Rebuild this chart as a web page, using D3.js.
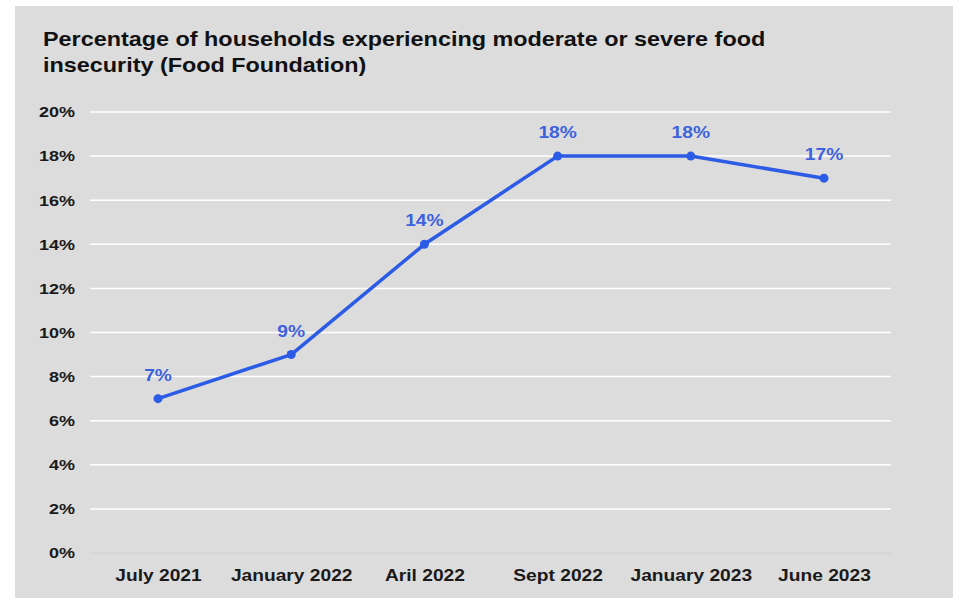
<!DOCTYPE html>
<html><head><meta charset="utf-8">
<script src="https://cdn.jsdelivr.net/npm/d3@7"></script>
<style>body{margin:0;background:#fff}svg{display:block}text{font-family:"Liberation Sans",Arial,sans-serif}</style>
</head><body>
<svg id="c" width="953" height="599"></svg>
<script>
const categories = ["July 2021","January 2022","Aril 2022","Sept 2022","January 2023","June 2023"];
const values = [7, 9, 14, 18, 18, 17];
const yTicks = [0,2,4,6,8,10,12,14,16,18,20];
const titleLines = ["Percentage of households experiencing moderate or severe food","insecurity (Food Foundation)"];

const SX = 1.2; // horizontal stretch of the reference text
const svg = d3.select("#c");
svg.append("rect").attr("x",15).attr("y",6).attr("width",938).attr("height",592).attr("fill","#dcdcdc");

const x = d3.scalePoint().domain(categories).range([158, 824]);
const y = d3.scaleLinear().domain([0,20]).range([553, 112]);

// gridlines
svg.append("g").selectAll("line").data(yTicks).join("line")
  .attr("x1",90).attr("x2",891)
  .attr("y1",d=>y(d)).attr("y2",d=>y(d))
  .attr("stroke",d=>d===0?"#d4d4d4":"#ffffff").attr("stroke-width",1.5);

// y axis labels
const yAxis = d3.axisLeft(y).tickValues(yTicks).tickFormat(d=>d+"%").tickSize(0).tickPadding(0);
const ga = svg.append("g").attr("transform","translate(75,0)").call(yAxis);
ga.select(".domain").remove();
ga.selectAll("text").attr("font-size",15).attr("font-weight","bold").attr("fill","#1a1a1a")
  .attr("font-family","'Liberation Sans',Arial,sans-serif").attr("transform",`scale(${SX},1)`);

// x axis labels
const xAxis = d3.axisBottom(x).tickSize(0).tickPadding(0);
const gx = svg.append("g").attr("transform","translate(0,570)").call(xAxis);
gx.select(".domain").remove();
gx.selectAll("text").attr("font-size",16).attr("font-weight","bold").attr("fill","#1a1a1a")
  .attr("font-family","'Liberation Sans',Arial,sans-serif").attr("transform",`scale(${SX},1)`);

// title
svg.append("g").selectAll("text").data(titleLines).join("text")
  .attr("transform",(d,i)=>`translate(43,${46+i*26}) scale(${SX},1)`)
  .attr("font-size",19.5).attr("font-weight","bold").attr("fill","#111")
  .text(d=>d);

const data = categories.map((c,i)=>({c, v: values[i]}));
const line = d3.line().x(d=>x(d.c)).y(d=>y(d.v));
svg.append("path").datum(data).attr("d",line).attr("fill","none")
  .attr("stroke","#2c5be6").attr("stroke-width",3.5).attr("stroke-linejoin","round");
svg.append("g").selectAll("circle").data(data).join("circle")
  .attr("cx",d=>x(d.c)).attr("cy",d=>y(d.v)).attr("r",4.5).attr("fill","#2c5be6");
svg.append("g").selectAll("text").data(data).join("text")
  .attr("transform",d=>`translate(${x(d.c)},${y(d.v)-18}) scale(${SX},1)`)
  .attr("text-anchor","middle").attr("font-size",16).attr("font-weight","bold").attr("fill","#3c62de")
  .text(d=>d.v+"%");
</script>
</body></html>
